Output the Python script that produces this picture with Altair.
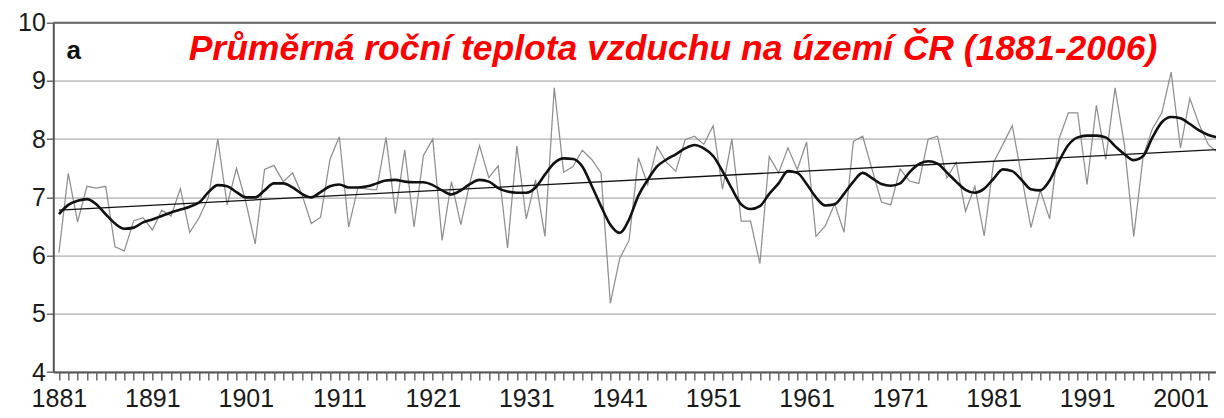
import altair as alt
import pandas as pd

# ---------------- data ----------------
years = list(range(1881, 2007))

annual = [
    6.05, 7.41, 6.58, 7.19, 7.16, 7.19, 6.15, 6.08, 6.60, 6.65,   # 1881-1890
    6.44, 6.78, 6.68, 7.15, 6.40, 6.65, 7.00, 8.00, 6.87, 7.50,   # 1891-1900
    6.92, 6.20, 7.48, 7.55, 7.27, 7.42, 7.05, 6.55, 6.66, 7.65,   # 1901-1910
    8.04, 6.49, 7.17, 7.14, 7.13, 8.03, 6.72, 7.81, 6.49, 7.72,   # 1911-1920
    8.00, 6.26, 7.27, 6.53, 7.27, 7.89, 7.34, 7.54, 6.13, 7.88,   # 1921-1930
    6.63, 7.30, 6.33, 8.88, 7.43, 7.53, 7.81, 7.65, 7.42, 5.18,   # 1931-1940
    5.95, 6.26, 7.68, 7.22, 7.87, 7.60, 7.45, 7.99, 8.05, 7.91,   # 1941-1950
    8.23, 7.14, 8.00, 6.59, 6.59, 5.86, 7.70, 7.42, 7.85, 7.48,   # 1951-1960
    7.95, 6.33, 6.51, 6.89, 6.40, 7.96, 8.05, 7.48, 6.92, 6.87,   # 1961-1970
    7.49, 7.28, 7.24, 8.00, 8.05, 7.33, 7.60, 6.76, 7.19, 6.34,   # 1971-1980
    7.60, 7.91, 8.23, 7.36, 6.48, 7.12, 6.63, 8.00, 8.45, 8.45,   # 1981-1990
    7.22, 8.58, 7.65, 8.88, 7.90, 6.33, 7.70, 8.18, 8.45, 9.15,   # 1991-2000
    7.85, 8.70, 8.25, 7.90, 7.77, 8.30,                           # 2001-2006
]

smooth = [
    6.71, 6.87, 6.94, 6.97, 6.88, 6.71, 6.55, 6.46, 6.48, 6.57,
    6.62, 6.68, 6.74, 6.79, 6.84, 6.91, 7.09, 7.21, 7.19, 7.09,
    7.00, 7.00, 7.12, 7.24, 7.24, 7.17, 7.06, 7.00, 7.09, 7.19,
    7.22, 7.17, 7.17, 7.19, 7.24, 7.29, 7.30, 7.27, 7.26, 7.26,
    7.21, 7.12, 7.05, 7.12, 7.23, 7.30, 7.27, 7.16, 7.10, 7.08,
    7.08, 7.17, 7.39, 7.59, 7.67, 7.66, 7.53, 7.20, 6.85, 6.53,
    6.39, 6.62, 7.03, 7.30, 7.53, 7.65, 7.74, 7.84, 7.90, 7.84,
    7.71, 7.45, 7.15, 6.88, 6.80, 6.85, 7.06, 7.24, 7.45, 7.42,
    7.23, 7.00, 6.86, 6.88, 7.06, 7.27, 7.42, 7.33, 7.23, 7.20,
    7.24, 7.43, 7.57, 7.62, 7.58, 7.43, 7.27, 7.13, 7.08, 7.15,
    7.32, 7.48, 7.45, 7.30, 7.14, 7.12, 7.29, 7.62, 7.90, 8.03,
    8.06, 8.06, 8.03, 7.88, 7.74, 7.64, 7.71, 8.03, 8.29, 8.38,
    8.36, 8.26, 8.15, 8.07, 8.03, 8.00,
]

trend_years = [1881, 2006]
trend_values = [6.78, 7.83]

y_ticks = [4, 5, 6, 7, 8, 9, 10]
x_tick_years = list(range(1881, 2005))
x_label_years = [1881, 1891, 1901, 1911, 1921, 1931, 1941, 1951, 1961, 1971, 1981, 1991, 2001]

title_text = ["Průměrná roční teplota vzduchu na území ČR (1881-2006)"]
title_pos_year = [1946.7]
title_pos_value = [9.36]
panel_text = ["a"]
panel_pos_year = [1881.8]
panel_pos_value = [9.37]
top_line_value = [10]

# ---------------- tables ----------------
df = pd.DataFrame({"year": years, "annual": annual, "smooth": smooth})
tr = pd.DataFrame({"year": trend_years, "value": trend_values})
ttl = pd.DataFrame({"year": title_pos_year, "value": title_pos_value, "t": title_text})
pnl = pd.DataFrame({"year": panel_pos_year, "value": panel_pos_value, "t": panel_text})
top = pd.DataFrame({"value": top_line_value})

FONT = "Liberation Sans"

x_scale = alt.Scale(domain=[1880.4, 2004.8], nice=False, zero=False)
y_scale = alt.Scale(domain=[4, 10], nice=False, zero=False)

label_list = "[" + ",".join(str(v) for v in x_label_years) + "]"
x_axis = alt.Axis(
    values=x_tick_years, title=None, grid=False,
    tickSize=8, tickColor="#555555", tickWidth=1.3,
    domainColor="#555555", domainWidth=2,
    labelExpr=f"indexof({label_list}, datum.value) >= 0 ? toString(datum.value) : ''",
    labelFont=FONT, labelFontSize=25, labelColor="#1a1a1a",
    labelPadding=6, labelOverlap=False, labelFlush=False, labelBound=False,
)
y_axis = alt.Axis(
    values=y_ticks, title=None, grid=True,
    gridColor="#c4c4c4", gridWidth=1.8,
    tickSize=7, tickColor="#555555", tickWidth=1.3,
    domainColor="#555555", domainWidth=2,
    labelFont=FONT, labelFontSize=25, labelColor="#1a1a1a", labelPadding=1,
)


def X(field):
    return alt.X(field, type="quantitative", scale=x_scale, axis=x_axis)


def Y(field):
    return alt.Y(field, type="quantitative", scale=y_scale, axis=y_axis)


annual_line = alt.Chart(df).mark_line(
    color="#8f8f8f", strokeWidth=1.25, clip=True
).encode(x=X("year"), y=Y("annual"))

smooth_line = alt.Chart(df).mark_line(
    color="#111111", strokeWidth=2.6, interpolate="monotone", clip=True
).encode(x=X("year"), y=Y("smooth"))

trend_line = alt.Chart(tr).mark_line(
    color="#111111", strokeWidth=1.3, clip=True
).encode(x=X("year"), y=Y("value"))

top_rule = alt.Chart(top).mark_rule(
    color="#666666", strokeWidth=2
).encode(y=Y("value"))

title_mark = alt.Chart(ttl).mark_text(
    font=FONT, fontSize=35.5, fontStyle="italic", fontWeight="bold",
    color="#ff0000", align="center", baseline="alphabetic"
).encode(x=X("year"), y=Y("value"), text="t:N")

panel_mark = alt.Chart(pnl).mark_text(
    font=FONT, fontSize=26, fontWeight="bold",
    color="#111111", align="left", baseline="alphabetic"
).encode(x=X("year"), y=Y("value"), text="t:N")

chart = alt.layer(
    annual_line, trend_line, smooth_line, top_rule, title_mark, panel_mark
).properties(
    width=1162.7,
    height=349.3,
    padding={"left": 45.3, "top": 14.7, "right": 0, "bottom": 38},
    autosize=alt.AutoSizeParams(type="none"),
    background="white",
).configure_view(stroke=None)

chart.save("out.html", embed_options={"renderer": "svg", "actions": False})
